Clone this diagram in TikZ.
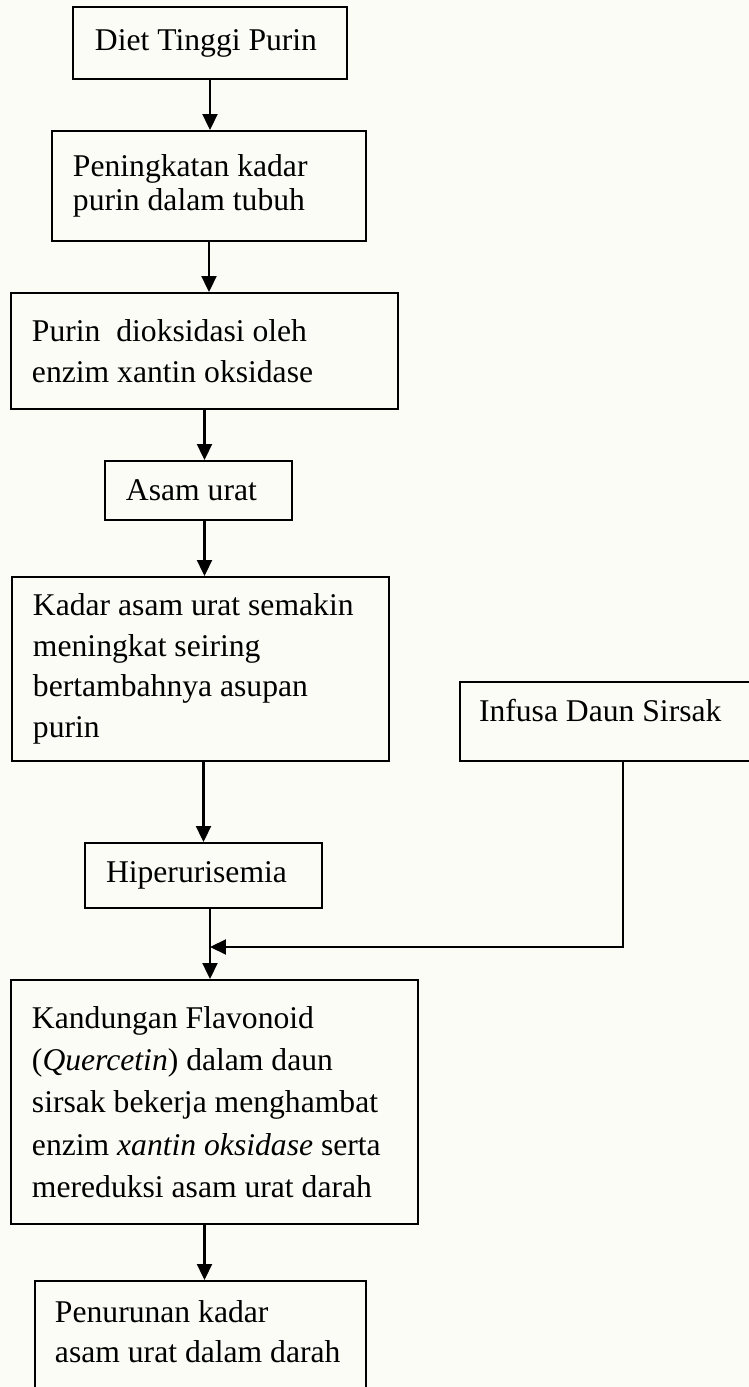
\documentclass[tikz,border=0pt]{standalone}
\usepackage{fontspec}
\setmainfont{Liberation Serif}
\usetikzlibrary{arrows.meta}
\definecolor{latar}{RGB}{252,252,246}

\begin{document}
\begin{tikzpicture}[scale=0.2]
\tikzstyle{every node}+=[inner sep=0pt]
\tikzstyle{kotak}=[draw, black, line width=1.1pt, rectangle, align=left, inner xsep=0.42cm, font=\fontsize{18}{23}\selectfont, execute at begin node={\spaceskip=0pt\xspaceskip=0pt\relax}]
\tikzstyle{panah}=[draw, black, line width=1.2pt, -{Triangle[length=3.2mm,width=3mm]}]
\useasboundingbox (0,0) rectangle (74.9,-138.7);
\clip (0,0) rectangle (74.9,-138.7);
\fill [latar] (0,0) rectangle (74.9,-138.7);
% kolom kiri
\node [kotak, inner xsep=0.44cm, text width=4.6cm, minimum height=1.44cm] (diet) at (21.0,-4.3) {Diet Tinggi Purin};
\node [kotak, text width=5.44cm, minimum height=2.2cm, font=\fontsize{18}{19}\selectfont] (naik) at (20.9,-18.6) {Peningkatan kadar\\purin dalam tubuh};
\node [kotak, text width=6.9cm, minimum height=2.32cm] (oksidasi) at (20.45,-35.1) {Purin~ dioksidasi oleh\\enzim xantin oksidase};
\node [kotak, text width=2.9cm, minimum height=1.18cm] (asam) at (19.85,-49.05) {Asam urat};
\node [kotak, text width=6.7cm, minimum height=3.68cm] (kadar) at (20.05,-66.9) {Kadar asam urat semakin\\meningkat seiring\\bertambahnya asupan\\purin};
\node [kotak, text width=3.9cm, minimum height=1.3cm] (hiper) at (20.35,-87.55) {Hiperurisemia};
\node [kotak, text width=7.3cm, minimum height=4.88cm, font=\fontsize{18}{24}\selectfont] (flavonoid) at (21.45,-110.2) {Kandungan Flavonoid\\(\textit{Quercetin}) dalam daun\\\mbox{sirsak bekerja menghambat}\\\mbox{enzim \textit{xantin oksidase} serta}\\\mbox{mereduksi asam urat darah}};
\node [kotak, inner xsep=0.4cm, text width=5.82cm, minimum height=2.6cm, text height=0.44cm, text depth=1.4cm] (turun) at (20.05,-134.6) {Penurunan kadar\\\mbox{asam urat dalam darah}};
% kolom kanan
\node [kotak, inner xsep=0.38cm, text width=5.76cm, minimum height=1.58cm, text height=0.42cm, text depth=0.42cm] (infusa) at (62.3,-72.15) {Infusa Daun Sirsak};
\coordinate (temu) at (21.0,-94.7);
% panah
\draw [panah] (diet.south) -- (diet.south |- naik.north);
\draw [panah] (naik.south) -- (naik.south |- oksidasi.north);
\draw [panah] (oksidasi.south) -- (oksidasi.south |- asam.north);
\draw [panah] (oksidasi.south |- asam.south) -- (oksidasi.south |- kadar.north);
\draw [panah] (hiper.north |- kadar.south) -- (hiper.north);
\draw [panah] (temu |- hiper.south) -- (temu |- flavonoid.north);
\draw [panah] (infusa.south) |- (temu);
\draw [panah] (oksidasi.south |- flavonoid.south) -- (oksidasi.south |- turun.north);
\end{tikzpicture}
\end{document}
